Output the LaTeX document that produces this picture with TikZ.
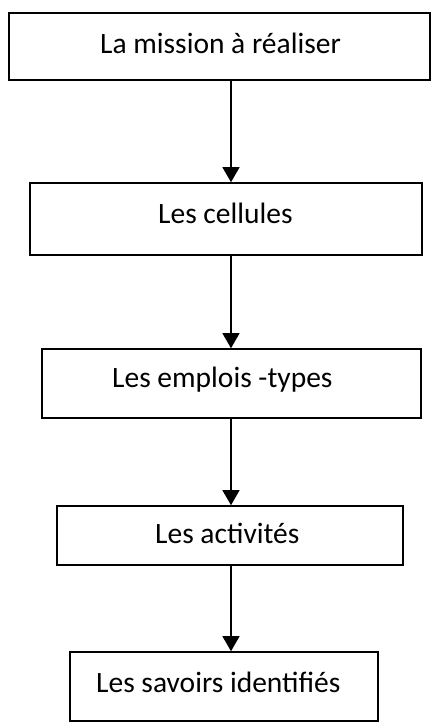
\documentclass[tikz,border=0pt]{standalone}
\usepackage{fontspec}
\setmainfont{Carlito}
\usetikzlibrary{arrows.meta}
\begin{document}
\begin{tikzpicture}[x=1pt,y=-1pt,
  box/.style={draw, line width=1.6pt, inner sep=0pt},
  lbl/.style={anchor=base west, inner sep=0pt, font=\fontsize{29.5}{34}\selectfont},
  arr/.style={line width=1.3pt, -{Triangle[length=15pt,width=17pt]}}]
\useasboundingbox (0,0) rectangle (432,724);
\coordinate (ax) at (231,0);
\node[box, minimum width=421pt, minimum height=67pt] (b1) at (219.5,46.5) {};
\node[box, minimum width=392pt, minimum height=72pt] (b2) at (226,219) {};
\node[box, minimum width=379pt, minimum height=69pt] (b3) at (231.5,383.5) {};
\node[box, minimum width=346pt, minimum height=59pt] (b4) at (230,535.5) {};
\node[box, minimum width=308pt, minimum height=69pt] (b5) at (224,686.5) {};
\node[lbl] (t1) at (100,53.3) {La mission à réaliser};
\node[lbl] (t2) at (158,223) {Les cellules};
\node[lbl] (t3) at (112,387) {Les emplois -types};
\node[lbl] (t4) at (155,543) {Les activités};
\node[lbl] (t5) at (96,692) {Les savoirs identifiés};
\draw[arr] (b1.south -| ax) -- (b2.north -| ax);
\draw[arr] (b2.south -| ax) -- (b3.north -| ax);
\draw[arr] (b3.south -| ax) -- (b4.north -| ax);
\draw[arr] (b4.south -| ax) -- (b5.north -| ax);
\end{tikzpicture}
\end{document}
